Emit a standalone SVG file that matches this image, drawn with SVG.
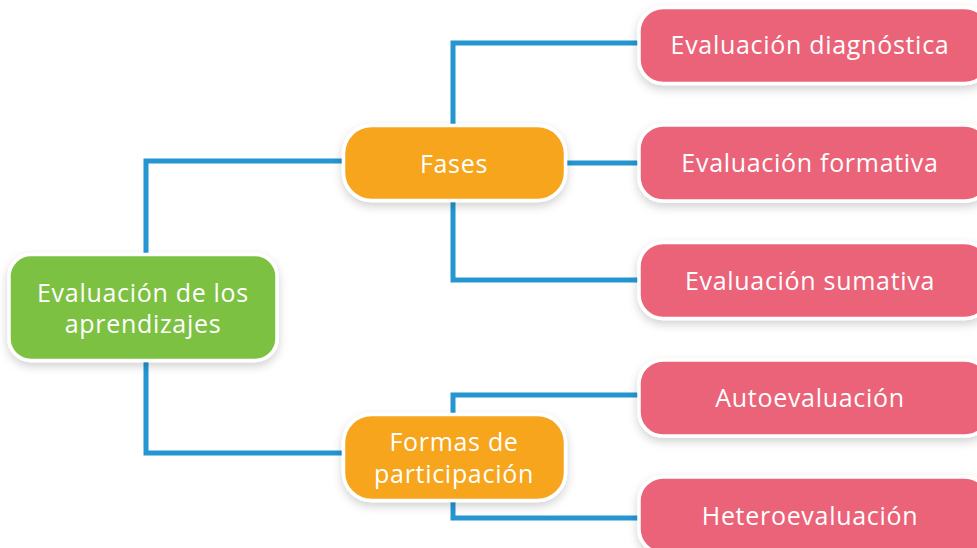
<svg xmlns="http://www.w3.org/2000/svg" width="977" height="548" viewBox="0 0 977 548">
<defs>
<filter id="sh" x="-20%" y="-30%" width="140%" height="170%">
<feDropShadow dx="0" dy="4" stdDeviation="5" flood-color="#000" flood-opacity="0.18"/>
</filter>
<style>
.c{fill:none;stroke:#2596d2;stroke-width:5}
.n rect{stroke:#fff;stroke-width:3.5;filter:url(#sh)}
.g rect{fill:#7dc142}
.o rect{fill:#f6a51f}
.p rect{fill:#eb6479}
.n text{font-family:"Open Sans","Noto Sans",sans-serif;font-size:25px;fill:#fff;text-anchor:middle;letter-spacing:0.7px}
</style>
</defs>
<rect width="977" height="548" fill="#fff"/>
<g id="connectors">
<path class="c" d="M146,256 V161 H344"/>
<path class="c" d="M146,360 V453 H344"/>
<path class="c" d="M565,163 H640"/>
<path class="c" d="M453,126 V43 H640"/>
<path class="c" d="M453,200 V280 H640"/>
<path class="c" d="M453,415 V395 H640"/>
<path class="c" d="M453,500 V518 H640"/>
</g>
<g id="root" class="n g">
<rect x="9" y="254.5" width="268" height="106" rx="22"/>
<text x="143" y="302">Evaluación de los</text>
<text x="143" y="333">aprendizajes</text>
</g>
<g id="fases" class="n o">
<rect x="343.5" y="125.5" width="222" height="75" rx="28"/>
<text x="454" y="173">Fases</text>
</g>
<g id="formas" class="n o">
<rect x="343.5" y="414.5" width="222" height="86" rx="28"/>
<text x="454" y="451">Formas de</text>
<text x="454" y="483">participación</text>
</g>
<g id="diagnostica" class="n p">
<rect x="639" y="7.5" width="350" height="76" rx="24"/>
<text x="810" y="54">Evaluación diagnóstica</text>
</g>
<g id="formativa" class="n p">
<rect x="639" y="125" width="350" height="76" rx="24"/>
<text x="810" y="172">Evaluación formativa</text>
</g>
<g id="sumativa" class="n p">
<rect x="639" y="242.5" width="350" height="76" rx="24"/>
<text x="810" y="290">Evaluación sumativa</text>
</g>
<g id="auto" class="n p">
<rect x="639" y="360" width="350" height="76" rx="24"/>
<text x="810" y="407">Autoevaluación</text>
</g>
<g id="hetero" class="n p">
<rect x="639" y="477" width="350" height="76" rx="24"/>
<text x="810" y="525">Heteroevaluación</text>
</g>
</svg>
